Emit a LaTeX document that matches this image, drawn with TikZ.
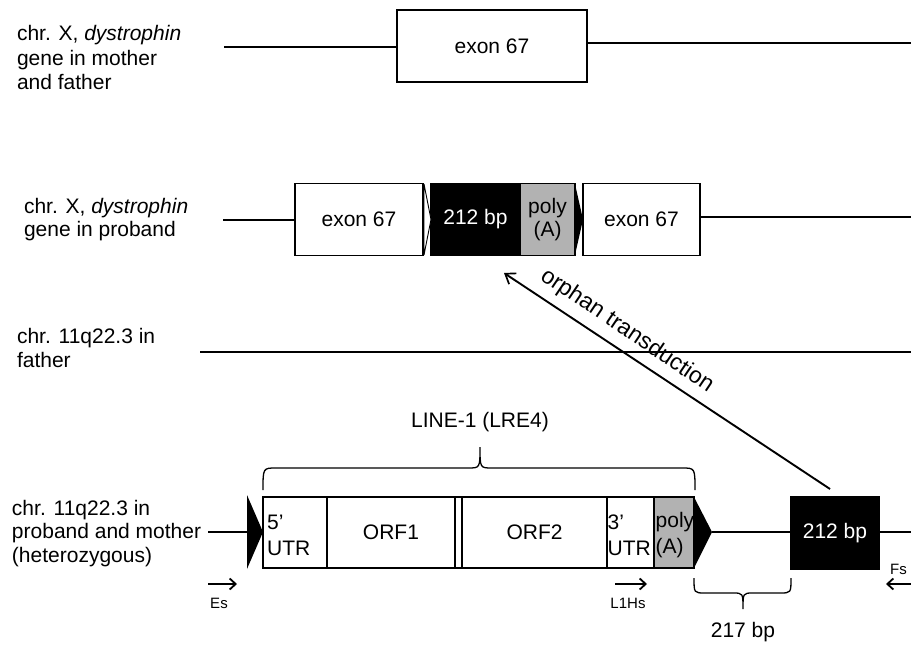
\documentclass[tikz,border=0pt]{standalone}
\usepackage{fontspec}
\setmainfont{Liberation Sans}
\usetikzlibrary{arrows.meta}
\newcommand\fsA{\fontsize{21}{23.5}\selectfont}
\newcommand\fsD{\fontsize{21}{24.5}\selectfont}
\newcommand\fsC{\fontsize{21}{26}\selectfont}
\newcommand\fsB{\fontsize{15}{17}\selectfont}
\tikzset{
  lw/.style={line width=1.8pt},
  box/.style={draw, line width=1.6pt, inner sep=0pt, outer sep=0pt, minimum height=72pt, font=\fsA, align=center},
  blk/.style={box, fill=black, text=white},
  gry/.style={box, fill=black!30},
  lbl/.style={inner sep=0pt, outer sep=0pt, font=\fsA, align=left, anchor=base west},
  intxt/.style={inner sep=0pt, font=\fsC, align=left, anchor=west},
  small/.style={inner sep=0pt, font=\fsB},
  primer/.style={line width=1.9pt, -{Straight Barb[length=6pt,width=11pt,line width=1.8pt]}},
  bracepath/.style={line width=1.3pt},
}
\begin{document}
\begin{tikzpicture}[x=1pt,y=-1pt]
\useasboundingbox (0,0) rectangle (911,647);
\clip (0,0) rectangle (911,647);
\fill[white] (0,0) rectangle (911,647);

% ---- row 1
\node[lbl, font=\fsD] (t1) at (17,90) {chr. X, \textit{dystrophin}\\gene in mother\\and father};
\node[box, minimum width=190pt] (e1) at (492,46) {exon 67};
\coordinate (r1l) at (224,47);
\coordinate (r1r) at (911,43);
\draw[lw] (r1l) -- (r1l -| e1.west);
\draw[lw] (r1r -| e1.east) -- (r1r);

% ---- row 2
\node[lbl] (t2) at (24,237) {chr. X, \textit{dystrophin}\\gene in proband};
\node[box, minimum width=128pt] (e2a) at (359,219.5) {exon 67};
\node[blk, minimum width=89pt] (b2) at (475.5,219.5) {212 bp};
\node[gry, minimum width=55pt] (p2) at (547.5,219.5) {poly\\(A)};
\node[box, minimum width=117pt] (e2b) at (641.5,219.5) {exon 67};
\coordinate (r2l) at (223,220);
\coordinate (r2r) at (911,217);
\draw[lw] (r2l) -- (r2l -| e2a.west);
\draw[lw] (r2r -| e2b.east) -- (r2r);
\draw[line width=0.9pt, fill=white] (424,184) -- (431,219.5) -- (424,255) -- cycle;
\fill (575,184) -- (583,219.5) -- (575,255) -- cycle;

% ---- row 3
\node[lbl] (t3) at (17,367) {chr. 11q22.3 in\\father};
\coordinate (r3l) at (200,352);
\coordinate (r3r) at (911,352);
\draw[lw] (r3l) -- (r3r);

% ---- row 4
\node[lbl] (t4) at (12,562) {chr. 11q22.3 in\\proband and mother\\(heterozygous)};
\node[box, minimum width=64pt, minimum height=71pt] (u5) at (295,532.5) {};
\node[intxt] (u5t) at (267,535) {5’\\UTR};
\node[box, minimum width=128pt, minimum height=71pt] (o1) at (391,532.5) {ORF1};
\node[box, minimum width=7pt, minimum height=71pt] (gap) at (458.5,532.5) {};
\node[box, minimum width=145pt, minimum height=71pt] (o2) at (534.5,532.5) {ORF2};
\node[box, minimum width=47pt, minimum height=71pt] (u3) at (630.5,532.5) {};
\node[intxt] (u3t) at (607.5,535) {3’\\UTR};
\node[gry, minimum width=40pt, minimum height=71pt] (p4) at (674,532.5) {};
\node[intxt] (p4t) at (655.5,535) {poly\\(A)};
\node[blk, minimum width=88pt] (b4) at (835,533) {212 bp};
\fill (247,495) -- (263,532) -- (247,569) -- cycle;
\fill (694,497) -- (712,532) -- (694,568) -- cycle;
\coordinate (r4l) at (208,532);
\coordinate (tsdl) at (247,532);
\coordinate (tsdr) at (712,532);
\coordinate (r4r) at (911,532);
\draw[lw] (r4l) -- (tsdl);
\draw[lw] (tsdr) -- (tsdr -| b4.west);
\draw[lw] (b4.east |- r4r) -- (r4r);

% LINE-1 brace
\node[inner sep=0pt, font=\fsA] (line1) at (480,422) {LINE-1 (LRE4)};
\draw[bracepath] (263,490) .. controls (263,468) .. (276,468) -- (468,468)
  .. controls (480,468) .. (480,447) .. controls (480,468) .. (492,468)
  -- (682,468) .. controls (695,468) .. (695,490);

% 217 bp brace
\draw[bracepath] (694,578) .. controls (694,593) .. (705,593) -- (733,593)
  .. controls (743,593) .. (743,609) .. controls (743,593) .. (753,593)
  -- (780,593) .. controls (791,593) .. (791,578);
\node[inner sep=0pt, font=\fsA] (bp217) at (743,632) {217 bp};

% primers
\coordinate (es1) at (208,584); \coordinate (es2) at (237,584);
\draw[primer] (es1) -- (es2);
\node[small] (es) at (219,603) {Es};
\coordinate (l11) at (615,584); \coordinate (l12) at (647,584);
\draw[primer] (l11) -- (l12);
\node[small] (l1hs) at (628,603) {L1Hs};
\coordinate (fs1) at (911,584); \coordinate (fs2) at (886,584);
\draw[primer] (fs1) -- (fs2);
\node[small, anchor=base west] (fs) at (890,574) {Fs};

% orphan transduction
\coordinate (otail) at (830,489);
\coordinate (ohead) at (504,273);
\draw[line width=1.9pt, -{Straight Barb[length=9pt,width=13pt,line width=1.7pt]}] (otail) -- (ohead);
\node[inner sep=0pt, font=\fontsize{23}{26}\selectfont, rotate=-34] (orph) at (627,331) {orphan transduction};
\end{tikzpicture}
\end{document}
